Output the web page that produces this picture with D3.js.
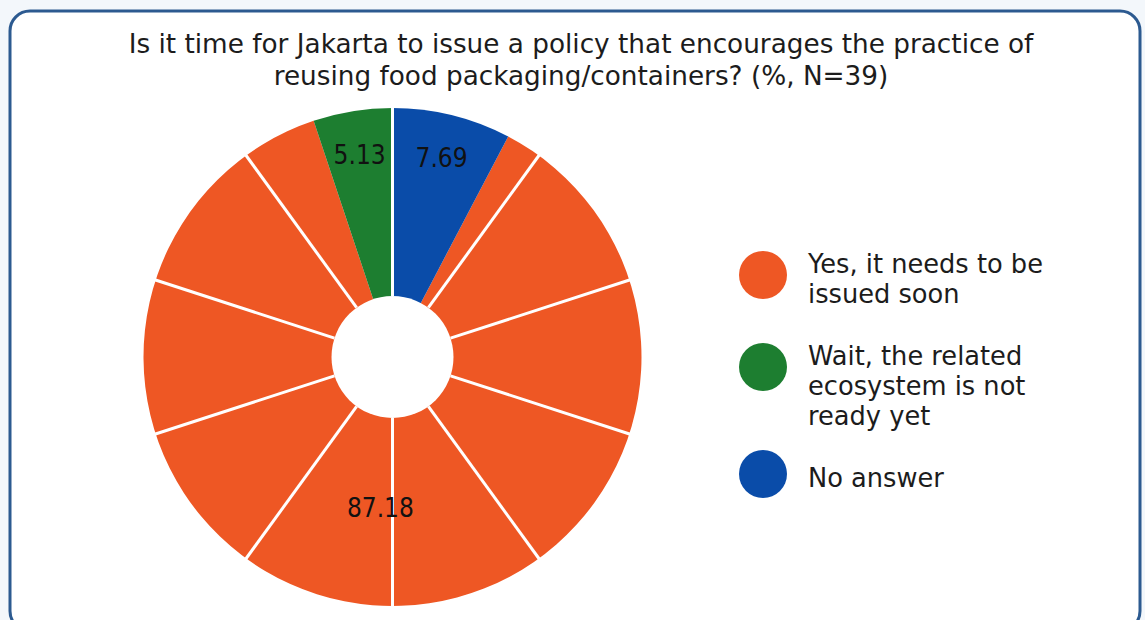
<!DOCTYPE html>
<html>
<head>
<meta charset="utf-8">
<script src="https://cdn.jsdelivr.net/npm/d3@7"></script>
<style>
  html, body { margin: 0; padding: 0; background: #f3f7fb; }
  svg { display: block; }
</style>
</head>
<body>
<svg id="chart" width="1145" height="620"></svg>
<script>
// Survey answers, in legend order
const categories = [
  "Yes, it needs to be issued soon",
  "Wait, the related ecosystem is not ready yet",
  "No answer"
];
const legendLines = [
  ["Yes, it needs to be", "issued soon"],
  ["Wait, the related", "ecosystem is not", "ready yet"],
  ["No answer"]
];
const shares = [87.18, 5.13, 7.69];
const valueLabels = ["87.18", "5.13", "7.69"];
const colors = ["#ee5724", "#1d7e30", "#0a4ca9"];
const titleLines = [
  "Is it time for Jakarta to issue a policy that encourages the practice of",
  "reusing food packaging/containers? (%, N=39)"
];
const segmentCount = 10; // decorative spokes across the ring

const svg = d3.select("#chart");

// card frame
svg.append("rect")
  .attr("x", 10).attr("y", 11)
  .attr("width", 1130).attr("height", 620)
  .attr("rx", 20).attr("ry", 20)
  .attr("fill", "#ffffff")
  .attr("stroke", "#2c5a90")
  .attr("stroke-width", 3);

// title
const title = svg.append("text")
  .attr("text-anchor", "middle")
  .attr("font-family", "'DejaVu Sans', sans-serif")
  .attr("font-size", 26.3)
  .attr("fill", "#1c1c1c");
title.selectAll("tspan").data(titleLines).join("tspan")
  .attr("x", 581)
  .attr("y", (d, i) => 53 + i * 32)
  .text(d => d);

// donut
const cx = 392.5, cy = 357, outerR = 249, innerR = 61;
const g = svg.append("g").attr("transform", `translate(${cx},${cy})`);

const total = d3.sum(shares);
const tau = 2 * Math.PI;
// the last answer ("No answer") begins at 12 o'clock, so the sequence is rotated by its share
const start = tau * shares[shares.length - 1] / total;
const pie = d3.pie().sort(null).value(d => d)
  .startAngle(start).endAngle(start + tau);
const arcs = pie(shares);

const arc = d3.arc().innerRadius(0).outerRadius(outerR);
g.selectAll("path.slice").data(arcs).join("path")
  .attr("class", "slice")
  .attr("d", arc)
  .attr("fill", (d, i) => colors[i]);

// white spokes
const spokeAngle = d3.scaleLinear().domain([0, segmentCount]).range([0, tau]);
g.selectAll("line.spoke").data(d3.range(segmentCount)).join("line")
  .attr("class", "spoke")
  .attr("x1", k => innerR * Math.sin(spokeAngle(k)))
  .attr("y1", k => -innerR * Math.cos(spokeAngle(k)))
  .attr("x2", k => (outerR + 1) * Math.sin(spokeAngle(k)))
  .attr("y2", k => -(outerR + 1) * Math.cos(spokeAngle(k)))
  .attr("stroke", "#ffffff")
  .attr("stroke-width", 3);

// hole
g.append("circle").attr("r", innerR).attr("fill", "#ffffff");

// value labels: small slices near the rim, the large one mid-ring
const rimArc = d3.arc().innerRadius(205).outerRadius(205);
const midArc = d3.arc().innerRadius(151).outerRadius(151);
g.selectAll("text.val").data(arcs).join("text")
  .attr("class", "val")
  .attr("transform", d => {
    const big = (d.endAngle - d.startAngle) > Math.PI;
    const p = (big ? midArc : rimArc).centroid(d);
    return `translate(${p[0]},${p[1]})`;
  })
  .attr("text-anchor", "middle")
  .attr("dy", "0.36em")
  .attr("font-family", "'DejaVu Sans Condensed', 'Liberation Sans Narrow', 'Liberation Sans', sans-serif")
  .attr("font-size", 26)
  .attr("fill", "#111")
  .text((d, i) => valueLabels[i]);

// legend
const legend = svg.append("g");
let y = 273;
legendLines.forEach((lines, i) => {
  const item = legend.append("g");
  const capMid0 = y - 9;
  const capMid1 = y + 30 * Math.min(1, lines.length - 1) - 9;
  item.append("circle")
    .attr("cx", 763)
    .attr("cy", (capMid0 + capMid1) / 2 - 4)
    .attr("r", 24)
    .attr("fill", colors[i]);
  const t = item.append("text")
    .attr("font-family", "'DejaVu Sans', sans-serif")
    .attr("font-size", 25.7)
    .attr("fill", "#1c1c1c");
  t.selectAll("tspan").data(lines).join("tspan")
    .attr("x", 808)
    .attr("y", (d, j) => y + j * 30)
    .text(d => d);
  y += lines.length * 30 + 32;
});
</script>
</body>
</html>
